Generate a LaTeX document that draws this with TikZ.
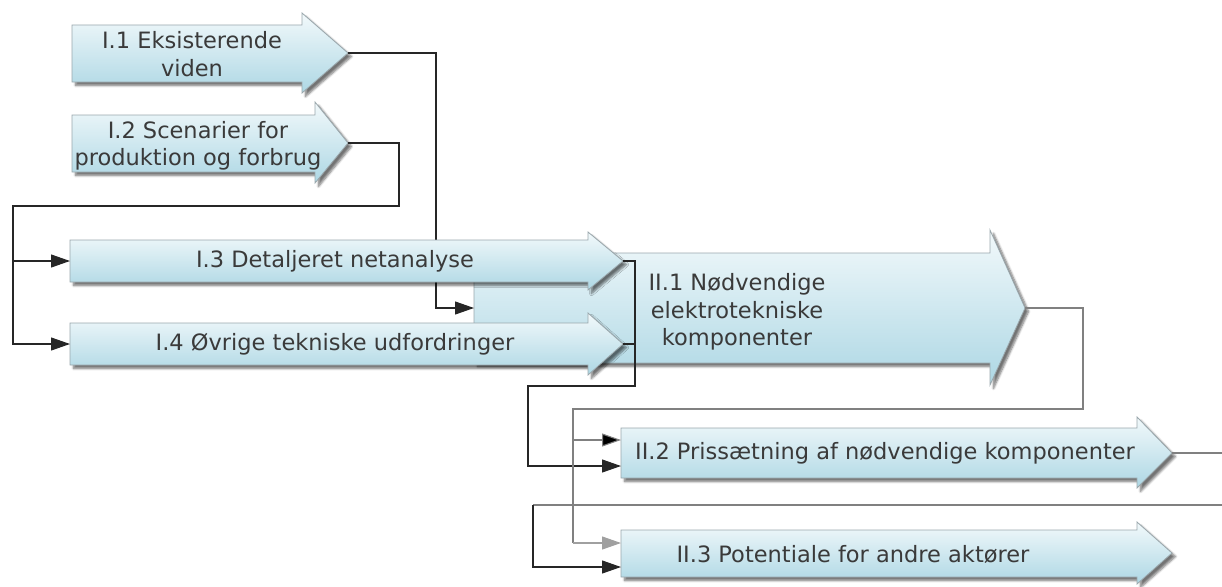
\documentclass[tikz,border=0pt]{standalone}
\usepackage{fontspec}
\setmainfont{DejaVu Sans}
\usetikzlibrary{arrows.meta,shadows.blur}

\definecolor{boxtop}{HTML}{F2F9FB}
\definecolor{boxbot}{HTML}{ADD7E4}
\definecolor{boxedge}{HTML}{9AA7AC}
\definecolor{txt}{HTML}{3A3A3A}
\definecolor{lgray}{HTML}{808080}
\definecolor{tgray}{HTML}{A0A0A0}

\tikzset{
  flowshape/.style={draw=boxedge, line width=0.8pt, top color=boxtop, bottom color=boxbot,
    blur shadow={shadow xshift=3.5pt, shadow yshift=-3.5pt, shadow blur steps=6, shadow opacity=55}},
  lbl/.style={text=txt, font=\fontsize{22.5}{27.5}\selectfont, align=center, inner sep=0pt},
  conn/.style={line width=1.1pt, draw=black!85},
  gconn/.style={line width=1.1pt, draw=lgray},
  tipb/.style={-{Triangle[length=19pt,width=13pt]}},
}

% name, x0, base, tip, body top, body bottom, head top, head bottom, centre y
\newcommand\flowarrow[9]{%
  \path[flowshape] (#2,#5) -- (#3,#5) -- (#3,#7) -- (#4,#9) -- (#3,#8) -- (#3,#6) -- (#2,#6) -- cycle;
  \coordinate (#1-in) at (#2,#9);
  \coordinate (#1-tip) at (#4,#9);
}

\begin{document}
\begin{tikzpicture}[x=1pt,y=-1pt]
\useasboundingbox (0,0) rectangle (1222,586);

% I.1 and I.2
\flowarrow{a1}{72}{302}{348}{25}{82}{13}{93}{53}
\node[lbl] (t1) at (192,54) {I.1 Eksisterende\\viden};
\flowarrow{a2}{72}{315}{348}{115}{172}{102}{183}{143}
\node[lbl] (t2) at (198,146) {I.2 Scenarier for\\produktion og forbrug};

% II.1 (behind I.3 / I.4)
\flowarrow{b1}{474}{990}{1025}{253}{363}{230}{385}{308}

% I.1 -> II.1
\coordinate (j1) at (436,200);
\draw[conn,tipb] (a1-tip) -| (j1) |- (b1-in);

% I.3 and I.4
\flowarrow{a3}{70}{588}{623}{240}{282}{232}{290}{261}
\node[lbl] (t3) at (335,261) {I.3 Detaljeret netanalyse};
\flowarrow{a4}{70}{588}{623}{323}{365}{313}{375}{344}
\node[lbl] (t4) at (335,344) {I.4 Øvrige tekniske udfordringer};

\node[lbl] (tb1) at (737,312) {II.1 Nødvendige\\elektrotekniske\\komponenter};

% I.2 -> I.3, I.4
\coordinate (k1) at (399,206);
\coordinate (k2) at (13,206);
\draw[conn,tipb] (a2-tip) -| (k1) -- (k2) |- (a4-in);
\draw[conn,tipb] (k2 |- a3-in) -- (a3-in);

% II.2 and II.3
\flowarrow{b2}{621}{1137}{1172}{428}{478}{417}{488}{453}
\node[lbl] (tb2) at (885,453) {II.2 Prissætning af nødvendige komponenter};
\flowarrow{b3}{621}{1137}{1172}{530}{577}{522}{584}{553}
\node[lbl] (tb3) at (853,554) {II.3 Potentiale for andre aktører};

\coordinate (b2-inA) at (621,440);
\coordinate (b2-inB) at (621,466);
\coordinate (b3-inA) at (621,543);
\coordinate (b3-inB) at (621,567);

% I.3, I.4 -> II.2
\coordinate (m1) at (635,386);
\coordinate (m2) at (528,386);
\draw[conn,tipb] (a3-tip) -| (m1) -- (m2) |- (b2-inB);
\draw[conn] (a4-tip) -- (a4-tip -| m1);

% II.1 -> II.2, II.3
\coordinate (n1) at (1083,409);
\coordinate (n2) at (573,409);
\draw[gconn] (b1-tip) -| (n1) -- (n2) -- (n2 |- b3-inA);
\draw[gconn,-{Triangle[length=19pt,width=13pt,fill=tgray]},draw=tgray] (n2 |- b3-inA) -- (b3-inA);
\draw[gconn,-{Triangle[length=19pt,width=13pt,fill=black]}] (n2 |- b2-inA) -- (b2-inA);

% II.2 -> out
\coordinate (e1) at (1222,453);
\draw[gconn] (b2-tip) -- (e1);

% in from right -> II.3
\coordinate (e2) at (1222,505);
\coordinate (p1) at (533,505);
\draw[gconn] (e2) -- (p1);
\draw[conn,tipb] (p1) |- (b3-inB);
\end{tikzpicture}
\end{document}
